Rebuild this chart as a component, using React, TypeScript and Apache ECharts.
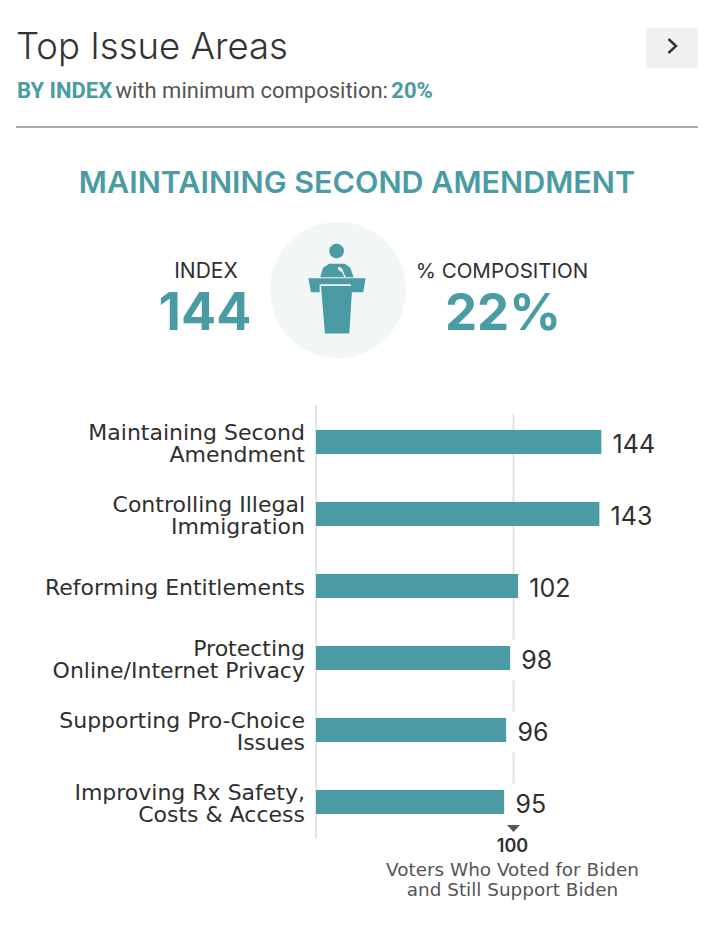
import React, { useEffect, useRef } from "react";
import * as echarts from "echarts";

const categories = [
  "Maintaining Second\nAmendment",
  "Controlling Illegal\nImmigration",
  "Reforming Entitlements",
  "Protecting\nOnline/Internet Privacy",
  "Supporting Pro-Choice\nIssues",
  "Improving Rx Safety,\nCosts & Access",
];
const indexValues = [144, 143, 102, 98, 96, 95];
const benchmark = 100;
const benchmarkLines = ["Voters Who Voted for Biden", "and Still Support Biden"];
const titleText = "Top Issue Areas";
const featuredIssue = "MAINTAINING SECOND AMENDMENT";
const featuredIndex = "144";
const featuredComposition = "22%";

const TEAL = "#4a9ba4";
const DARK = "#2f2f2f";
const FONT = "Inter";
const WIDE = "DejaVu Sans";

export default function App() {
  const ref = useRef<HTMLDivElement>(null);
  useEffect(() => {
    document.body.style.margin = "0";
    const chart = echarts.init(ref.current!, undefined, { renderer: "svg" });
    const poly = (points: number[][], fill: string) => ({
      type: "polygon",
      shape: { points },
      style: { fill },
    });
    chart.setOption({
      animation: false,
      backgroundColor: "#ffffff",
      textStyle: { fontFamily: FONT },
      grid: [
        { left: 316, top: 406, width: 297.5, height: 432 },
        { left: 316, top: 407.5, width: 297.5, height: 432 },
      ],
      xAxis: [
        { type: "value", min: 0, max: 150, show: false, gridIndex: 0 },
        { type: "value", min: 0, max: 150, show: false, gridIndex: 1 },
      ],
      yAxis: [
        {
          type: "category",
          gridIndex: 0,
          inverse: true,
          data: categories,
          offset: 1,
          axisTick: { show: false },
          splitLine: { show: false },
          axisLabel: { show: false },
          axisLine: { show: true, lineStyle: { color: "#e3e3e3", width: 2 } },
        },
        {
          type: "category",
          gridIndex: 1,
          inverse: true,
          data: categories,
          offset: 1,
          axisTick: { show: false },
          splitLine: { show: false },
          axisLine: { show: false },
          axisLabel: {
            margin: 10,
            fontFamily: WIDE,
            fontSize: 22,
            lineHeight: 22,
            color: DARK,
            align: "right",
          },
        },
      ],
      series: [
        {
          type: "custom",
          z: 1,
          silent: true,
          clip: false,
          data: [[benchmark, 0]],
          encode: { x: 0, y: 1 },
          renderItem: (params: any, api: any) => {
            const p = api.coord([api.value(0), 0]);
            const x = Math.round(p[0]) - 0.5;
            const top = params.coordSys.y + 8;
            const bottom = params.coordSys.y + params.coordSys.height;
            return {
              type: "group",
              children: [
                {
                  type: "line",
                  shape: { x1: x, y1: top, x2: x, y2: bottom - 30 },
                  style: { stroke: "#e3e3e3", lineWidth: 2 },
                },
                {
                  type: "polygon",
                  shape: {
                    points: [
                      [x - 6.5, bottom - 13],
                      [x + 6.5, bottom - 13],
                      [x, bottom - 6],
                    ],
                  },
                  style: { fill: "#555555" },
                },
                {
                  type: "text",
                  style: {
                    x: x - 1,
                    y: bottom + 7,
                    text: String(api.value(0)),
                    align: "center",
                    verticalAlign: "middle",
                    fontFamily: FONT,
                    fontWeight: 600,
                    fontSize: 18,
                    fill: DARK,
                  },
                },
                {
                  type: "text",
                  style: {
                    x: x - 1,
                    y: bottom + 31,
                    text: benchmarkLines[0],
                    align: "center",
                    verticalAlign: "middle",
                    fontFamily: WIDE,
                    fontSize: 18.4,
                    fill: "#555555",
                  },
                },
                {
                  type: "text",
                  style: {
                    x: x - 1,
                    y: bottom + 51,
                    text: benchmarkLines[1],
                    align: "center",
                    verticalAlign: "middle",
                    fontFamily: WIDE,
                    fontSize: 18.4,
                    fill: "#555555",
                  },
                },
              ],
            };
          },
        },
        {
          type: "bar",
          z: 2,
          data: indexValues,
          barWidth: 24,
          itemStyle: { color: TEAL },
          label: {
            show: true,
            position: "right",
            distance: 0,
            offset: [0, 2],
            color: DARK,
            fontFamily: FONT,
            fontSize: 25,
            backgroundColor: "#ffffff",
            padding: [8, 10, 8, 11],
          },
        },
      ],
      graphic: [
        { type: "text", style: { x: 16, y: 46, text: titleText, verticalAlign: "middle", fontFamily: FONT, fontWeight: 300, fontSize: 36.5, fill: "#333333" } },
        {
          type: "text",
          style: {
            x: 17,
            y: 90,
            verticalAlign: "middle",
            text: "{a|BY INDEX} {b|with minimum composition:} {a|20%}",
            rich: {
              a: { fontFamily: "Roboto", fontWeight: 700, fontSize: 22, fill: TEAL, color: TEAL },
              b: { fontFamily: "Roboto", fontWeight: 400, fontSize: 22, fill: "#555555", color: "#555555" },
            },
          },
        },
        { type: "rect", shape: { x: 646, y: 28, width: 52, height: 40, r: 4 }, style: { fill: "#eff0f2" } },
        { type: "polyline", shape: { points: [[668.5, 39], [676, 46], [668.5, 53]] }, style: { stroke: "#333333", lineWidth: 2.4, fill: "none" } },
        { type: "line", shape: { x1: 16, y1: 127, x2: 698, y2: 127 }, style: { stroke: "#a9a9a9", lineWidth: 2 } },
        { type: "text", style: { x: 357, y: 181, text: featuredIssue, align: "center", verticalAlign: "middle", fontFamily: FONT, fontWeight: 600, fontSize: 30.5, fill: TEAL } },
        { type: "circle", shape: { cx: 338, cy: 290, r: 68 }, style: { fill: "#f1f7f7" } },
        {
          type: "group",
          x: 295,
          y: 235,
          scaleX: 1 / 3,
          scaleY: 1 / 3,
          children: [
            { type: "circle", shape: { cx: 125, cy: 48, r: 22 }, style: { fill: TEAL } },
            poly([[76, 127], [84, 98], [103, 86], [150, 86], [166, 98], [176, 127]], TEAL),
            poly([[40, 130], [212, 130], [205, 172], [168, 172], [168, 148], [74, 148], [74, 172], [48, 172]], TEAL),
            poly([[78, 153], [172, 153], [163, 296], [90, 296]], TEAL),
            { type: "ellipse", shape: { cx: 136, cy: 103, rx: 9, ry: 5 }, rotation: -0.7, originX: 136, originY: 103, style: { fill: "#f1f7f7" } },
            { type: "line", shape: { x1: 142, y1: 108, x2: 151, y2: 128 }, style: { stroke: "#f1f7f7", lineWidth: 4 } },
          ],
        },
        { type: "text", style: { x: 206, y: 270, text: "INDEX", align: "center", verticalAlign: "middle", fontFamily: FONT, fontSize: 21, fill: DARK } },
        { type: "text", style: { x: 205, y: 311, text: featuredIndex, align: "center", verticalAlign: "middle", fontFamily: FONT, fontWeight: 700, fontSize: 52, fill: TEAL } },
        { type: "text", style: { x: 502, y: 270, text: "% COMPOSITION", align: "center", verticalAlign: "middle", fontFamily: FONT, fontSize: 20.5, fill: DARK } },
        { type: "text", style: { x: 503, y: 311, text: featuredComposition, align: "center", verticalAlign: "middle", fontFamily: FONT, fontWeight: 700, fontSize: 51, fill: TEAL } },
      ],
    });
    return () => chart.dispose();
  }, []);
  return <div ref={ref} style={{ width: 728, height: 942 }} />;
}
